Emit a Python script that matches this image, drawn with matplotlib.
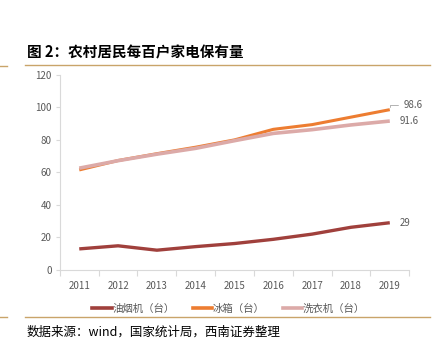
import numpy as np
import matplotlib.pyplot as plt
from matplotlib.lines import Line2D

plt.rcParams['font.family'] = ['Noto Sans CJK SC', 'DejaVu Sans']

years = ["2011", "2012", "2013", "2014", "2015", "2016", "2017", "2018", "2019"]
hood = [12.9, 14.8, 12.1, 14.3, 16.2, 18.8, 22.0, 26.2, 29.0]
fridge = [61.5, 67.3, 71.5, 75.5, 80.0, 86.5, 89.4, 94.0, 98.6]
washer = [62.6, 67.2, 71.2, 74.8, 79.5, 84.0, 86.3, 89.2, 91.6]
names = ["油烟机（台）", "冰箱（台）", "洗衣机（台）"]
colors = ["#A0403C", "#ED7D31", "#DCAAA8"]

fig = plt.figure(figsize=(4.4, 3.5), dpi=100)
ax = fig.add_axes([0.136, 0.229, 0.794, 0.557])

x = np.arange(len(years))
ax.plot(x, fridge, color=colors[1], lw=2.2, solid_capstyle='butt')
ax.plot(x, washer, color=colors[2], lw=2.6, solid_capstyle='butt')
ax.plot(x, hood, color=colors[0], lw=2.4, solid_capstyle='butt')

ax.set_xlim(-0.5, len(years) - 0.5)
ax.set_ylim(0, 120)
ax.set_yticks(range(0, 121, 20))
ax.set_xticks(x)
ax.set_xticklabels(years)
ax.set_xticks(np.arange(-0.5, len(years)), minor=True)
ax.tick_params(axis='x', which='major', length=0, pad=8, labelsize=7, colors='#595959')
ax.tick_params(axis='x', which='minor', length=4, color='#D9D9D9', width=0.8)
ax.tick_params(axis='y', length=3, color='#D9D9D9', width=0.8, labelsize=7, colors='#595959', pad=3)
for s in ['top', 'right']:
    ax.spines[s].set_visible(False)
ax.spines['left'].set_color('#D9D9D9')
ax.spines['bottom'].set_color('#D9D9D9')
ax.spines['left'].set_linewidth(0.8)
ax.spines['bottom'].set_linewidth(0.8)

# 末端数值标签
ax.annotate(f"{fridge[-1]:.1f}", xy=(x[-1], fridge[-1]), xytext=(10, 3), textcoords='offset points',
            fontsize=7, color='#595959', va='center',
            arrowprops=dict(arrowstyle='-', color='#A6A6A6', lw=0.6, connectionstyle='angle,angleA=0,angleB=90'))
ax.annotate(f"{washer[-1]:.1f}", xy=(x[-1], washer[-1]), xytext=(7, 0), textcoords='offset points',
            fontsize=7, color='#595959', va='center')
ax.annotate(f"{hood[-1]:.0f}", xy=(x[-1], hood[-1]), xytext=(7, 0), textcoords='offset points',
            fontsize=7, color='#595959', va='center')

handles = [Line2D([], [], color=c, lw=2.6) for c in colors]
fig.legend(handles, names, loc='center', bbox_to_anchor=(0.52, 0.117), ncol=3, frameon=False,
           fontsize=7.5, handlelength=1.9, handletextpad=0.05, columnspacing=1.7, labelcolor='#595959')

# 标题与来源
fig.text(0.061, 0.851, "图 2：农村居民每百户家电保有量", fontsize=10.5, fontweight='bold', va='center', color='black')
fig.text(0.061, 0.051, "数据来源：wind，国家统计局，西南证券整理", fontsize=9, va='center', color='black',
         style='italic')

line_col = '#C9A46A'
fig.add_artist(Line2D([0.057, 0.977], [0.814, 0.814], color=line_col, lw=1.0))
fig.add_artist(Line2D([0.0, 0.016], [0.811, 0.811], color=line_col, lw=1.0))
fig.add_artist(Line2D([0.057, 0.977], [0.094, 0.094], color=line_col, lw=1.0))
fig.add_artist(Line2D([0.0, 0.016], [0.094, 0.094], color=line_col, lw=1.0))

fig.savefig("out.png", dpi=100)
